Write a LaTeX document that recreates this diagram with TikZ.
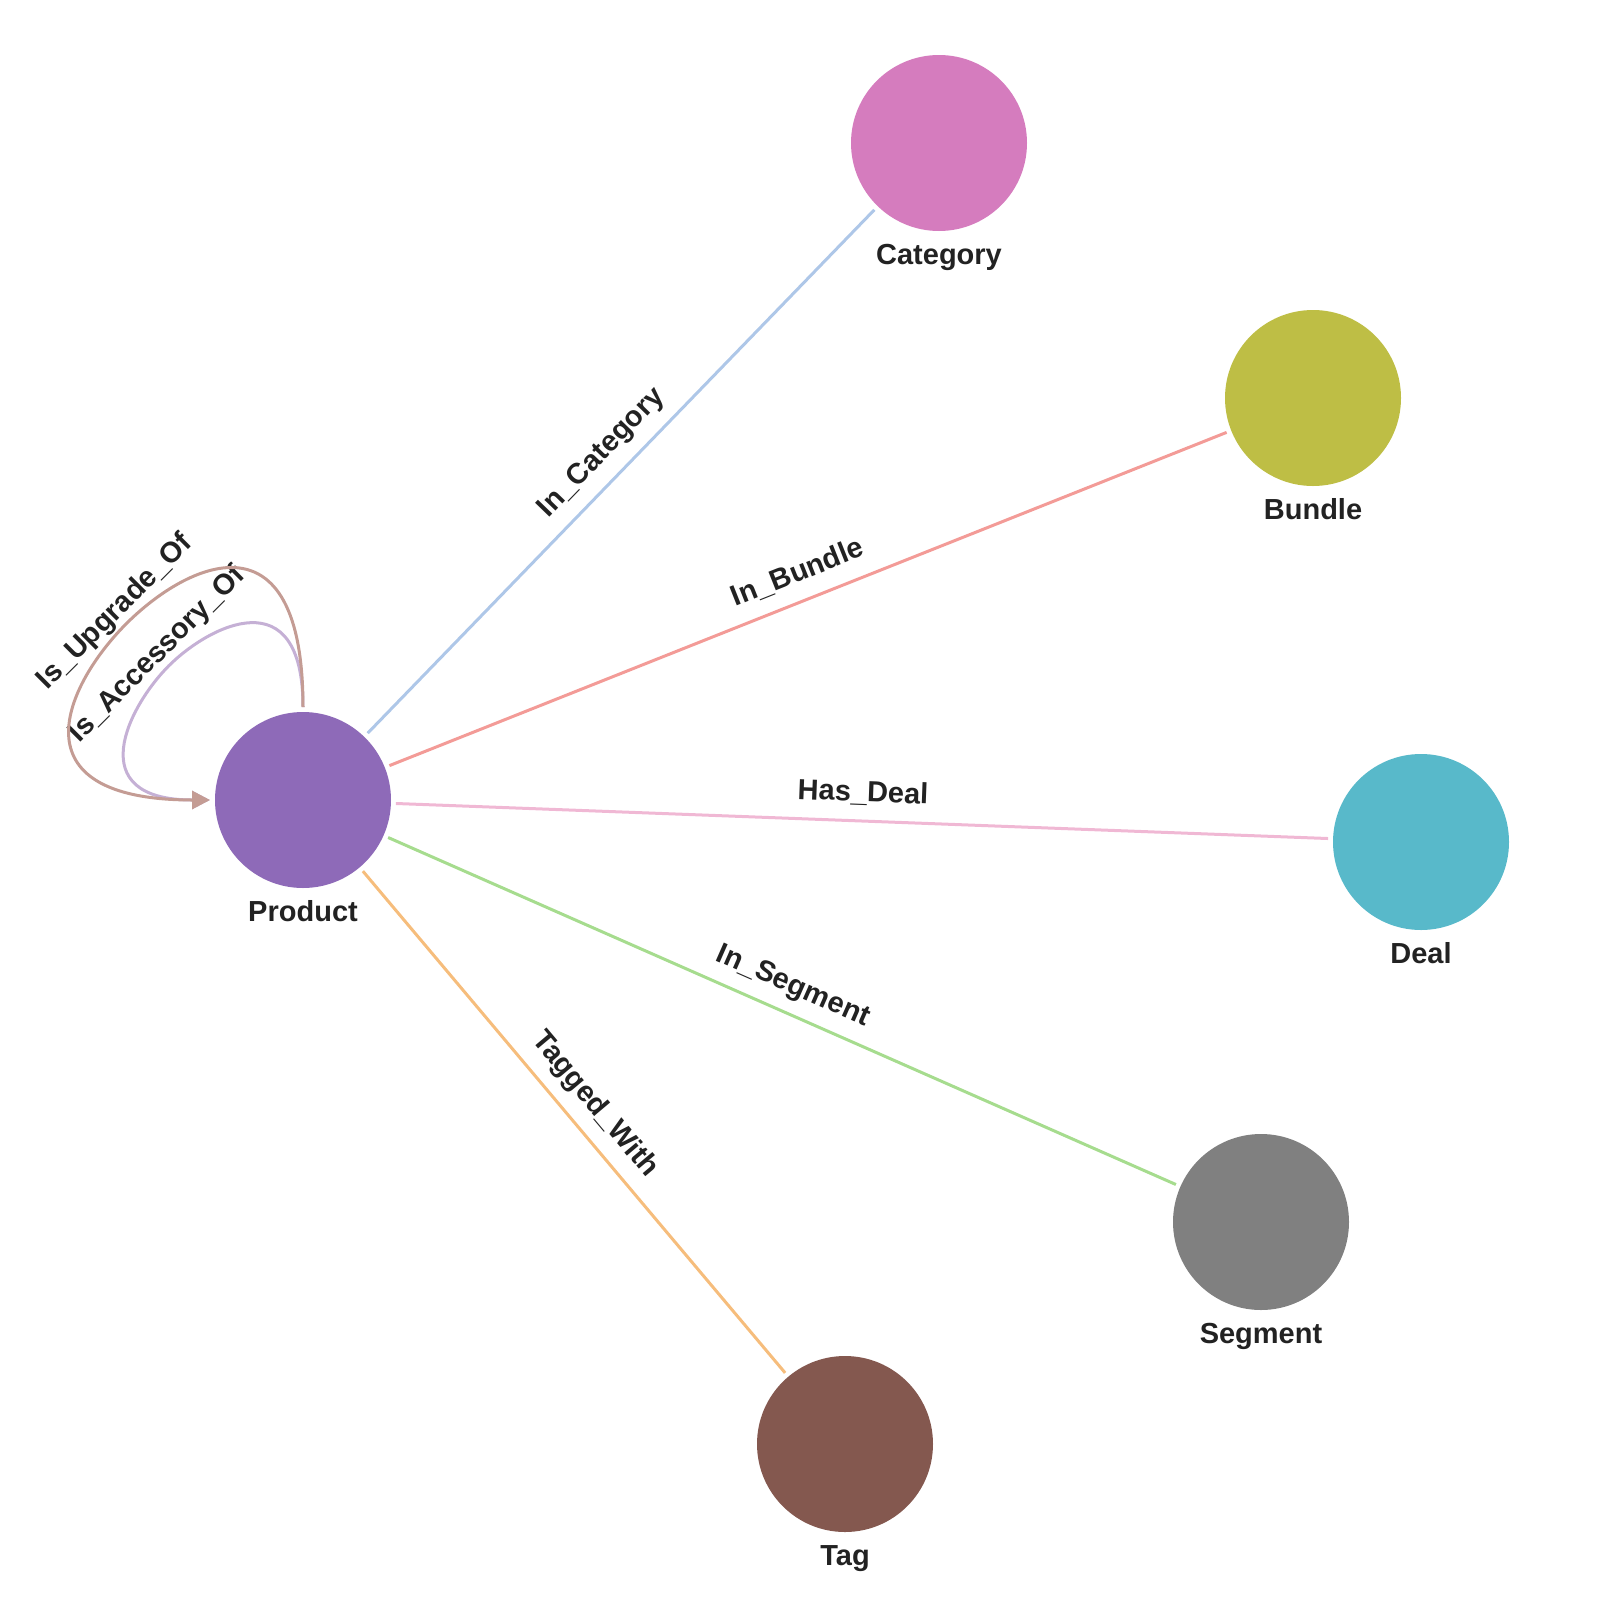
\documentclass[tikz,border=0pt]{standalone}
\usepackage{fontspec}
\setmainfont{Liberation Sans}
\usetikzlibrary{arrows.meta}
\definecolor{cProduct}{HTML}{8E6AB8}
\definecolor{cCategory}{HTML}{D57CBE}
\definecolor{cBundle}{HTML}{BEBE45}
\definecolor{cDeal}{HTML}{58B9CA}
\definecolor{cSegment}{HTML}{808080}
\definecolor{cTag}{HTML}{84584F}
\definecolor{eCategory}{HTML}{AEC7E8}
\definecolor{eBundle}{HTML}{F39B97}
\definecolor{eDeal}{HTML}{F0B8D4}
\definecolor{eSegment}{HTML}{A6DC8E}
\definecolor{eTag}{HTML}{F6BD7C}
\definecolor{eUpgrade}{HTML}{C49C94}
\definecolor{eAccessory}{HTML}{C5B0D5}
\definecolor{textgray}{HTML}{222222}
\begin{document}
\begin{tikzpicture}[x=0.5pt,y=-0.5pt,
  vertex/.style={circle, draw=none, minimum size=88pt, inner sep=0pt, outer sep=2.5pt},
  labelfont/.style={font=\fontsize{14.5pt}{17pt}\selectfont\bfseries, text=textgray},
  nodetext/.style={labelfont, anchor=base, inner sep=0pt},
  edgetext/.style={labelfont, sloped, anchor=south, text depth=0pt, inner xsep=0pt, inner ysep=9pt},
  looptext/.style={labelfont, rotate=45, anchor=south, text depth=0pt, inner xsep=0pt, inner ysep=3.5pt},
  link/.style={line width=1.5pt},
  looptip/.style={-{Triangle[length=9pt,width=9pt]}}
]
\useasboundingbox (0,0) rectangle (1596,1612);
\node[vertex] (prod) at (303,800) {};
\node[vertex] (cat) at (939,143) {};
\node[vertex] (bun) at (1313,398) {};
\node[vertex] (deal) at (1421,842) {};
\node[vertex] (seg) at (1261,1222) {};
\node[vertex] (tag) at (845,1444) {};

\draw[link, eCategory] (prod) -- node[edgetext] {In\_Category} (cat);
\draw[link, eBundle] (prod) -- node[edgetext] {In\_Bundle} (bun);
\draw[link, eDeal] (prod) -- node[edgetext] {Has\_Deal} (deal);
\draw[link, eSegment] (prod) -- node[edgetext] {In\_Segment} (seg);
\draw[link, eTag] (prod) -- node[edgetext] {Tagged\_With} (tag);

\draw[link, eAccessory, looptip] (prod.north) .. controls (303,577) and (208.8,625.8) .. (168.8,665.8)
  node[looptext] {Is\_Accessory\_Of}
  .. controls (128.8,705.8) and (80,800) .. (prod.west);
\draw[link, eUpgrade, looptip] (prod.north) .. controls (303,507) and (186.5,563.5) .. (126.5,623.5)
  node[looptext] {Is\_Upgrade\_Of}
  .. controls (66.5,683.5) and (10,800) .. (prod.west);

\fill[cProduct] (prod.center) circle[radius=88];
\fill[cCategory] (cat.center) circle[radius=88];
\fill[cBundle] (bun.center) circle[radius=88];
\fill[cDeal] (deal.center) circle[radius=88];
\fill[cSegment] (seg.center) circle[radius=88];
\fill[cTag] (tag.center) circle[radius=88];

\node[nodetext] (prodlbl) at ([yshift=-60.5pt]prod.center) {Product};
\node[nodetext] (catlbl) at ([yshift=-60.5pt]cat.center) {Category};
\node[nodetext] (bunlbl) at ([yshift=-60.5pt]bun.center) {Bundle};
\node[nodetext] (deallbl) at ([yshift=-60.5pt]deal.center) {Deal};
\node[nodetext] (seglbl) at ([yshift=-60.5pt]seg.center) {Segment};
\node[nodetext] (taglbl) at ([yshift=-60.5pt]tag.center) {Tag};
\end{tikzpicture}
\end{document}
